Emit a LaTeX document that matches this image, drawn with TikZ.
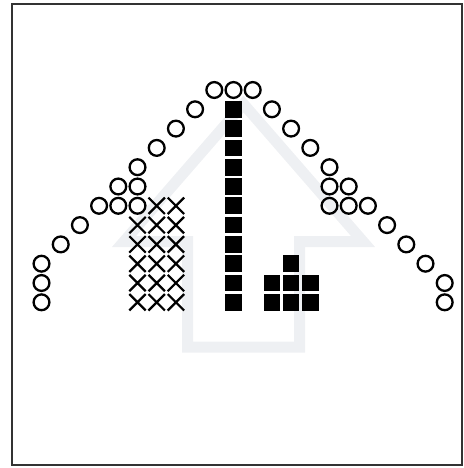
\documentclass[tikz,border=0pt]{standalone}
\definecolor{framegray}{HTML}{333333}
\definecolor{arrowgray}{HTML}{EEF0F3}
\begin{document}
\begin{tikzpicture}[x=1pt,y=-1pt,
  ring/.style={draw=black,line width=2.3pt},
  crossline/.style={draw=black,line width=2.2pt},
  blocksq/.style={fill=black},
  arrowline/.style={draw=arrowgray,line width=11pt,line join=miter},
  framebox/.style={draw=framegray,line width=2pt}]
\useasboundingbox (0,0) rectangle (463,468);
% background arrow outline
\draw[arrowline] (243.5,104) -- (363,241.5) -- (299.5,241.5) -- (299.5,347)
  -- (187.5,347) -- (187.5,241.5) -- (124,241.5) -- cycle;
% frame
\draw[framebox] (12,4) rectangle (461.5,464.5);
% circles
\foreach \c/\r in {9/0,10/0,11/0,8/1,7/2,6/3,5/4,4/5,5/5,3/6,4/6,5/6,2/7,1/8,0/9,0/10,0/11,
  12/1,13/2,14/3,15/4,15/5,16/5,15/6,16/6,17/6,18/7,19/8,20/9,21/10,21/11}
  \draw[ring] ({41.5+19.2*\c},{90+19.3*\r}) circle (7.9pt);
% crosses
\foreach \c/\r in {6/6,7/6,5/7,6/7,7/7,5/8,6/8,7/8,5/9,6/9,7/9,5/10,6/10,7/10,5/11,6/11,7/11}
  \draw[crossline] ({41.5+19.2*\c-8.2},{90+19.3*\r-8.2}) -- ++(16.4,16.4)
    ({41.5+19.2*\c-8.2},{90+19.3*\r+8.2}) -- ++(16.4,-16.4);
% squares
\foreach \c/\r in {10/1,10/2,10/3,10/4,10/5,10/6,10/7,10/8,10/9,10/10,10/11,
  13/9,12/10,13/10,14/10,12/11,13/11,14/11}
  \fill[blocksq] ({41.5+19.2*\c-8.35},{90+19.3*\r-8.35}) rectangle ++(16.7,16.7);
\end{tikzpicture}
\end{document}
